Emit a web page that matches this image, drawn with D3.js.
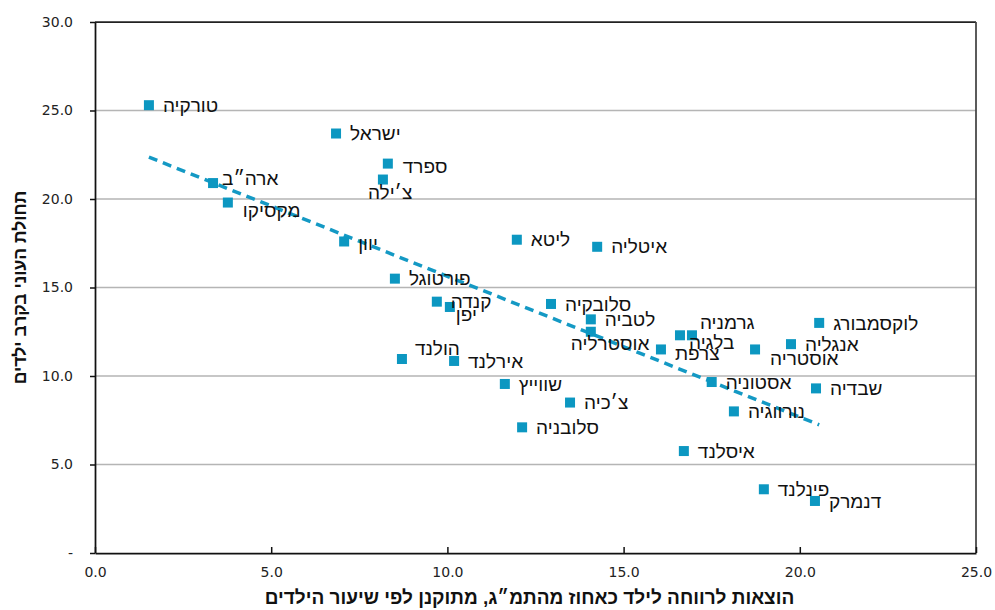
<!DOCTYPE html>
<html><head><meta charset="utf-8">
<script src="https://cdn.jsdelivr.net/npm/d3@7"></script>
<style>body{margin:0;background:#fff}</style>
</head><body>
<svg id="chart" width="995" height="610"></svg>
<script>
// ---- data ----
const countries = ["טורקיה","ישראל","ספרד","צ׳ילה","ארה״ב","מקסיקו","יוון","פורטוגל","קנדה","יפן","הולנד","אירלנד","ליטא","איטליה","סלובקיה","לטביה","אוסטרליה","שווייץ","צ׳כיה","סלובניה","בלגיה","גרמניה","צרפת","לוקסמבורג","אנגליה","אוסטריה","אסטוניה","שבדיה","נורווגיה","איסלנד","פינלנד","דנמרק"];
const spending = [1.53,6.84,8.31,8.17,3.35,3.77,7.07,8.51,9.70,10.07,8.71,10.19,11.97,14.25,12.94,14.07,14.07,11.63,13.48,12.12,16.60,16.94,16.06,20.55,19.75,18.73,17.50,20.46,18.13,16.71,18.98,20.43];
const poverty  = [25.3,23.7,22.0,21.1,20.9,19.8,17.6,15.5,14.2,13.9,10.96,10.85,17.7,17.3,14.07,13.2,12.5,9.55,8.5,7.1,12.3,12.3,11.5,13.0,11.8,11.5,9.66,9.3,8.0,5.76,3.6,2.94];
const xTicks = [0,5,10,15,20,25];
const xTickLabels = ["0.0","5.0","10.0","15.0","20.0","25.0"];
const yTicks = [0,5,10,15,20,25,30];
const yTickLabels = ["-","5.0","10.0","15.0","20.0","25.0","30.0"];
const xTitle = "הוצאות לרווחה לילד כאחוז מהתמ״ג, מתוקנן לפי שיעור הילדים";
const yTitle = "תחולת העוני בקרב ילדים";

// ---- label placement (layout only) ----
const labelOffsets = {
  "צ׳ילה":[-15,13], "ארה״ב":[9,-5], "ספרד":[15,3], "מקסיקו":[15,8], "יוון":[14,2],
  "יפן":[6,7], "הולנד":[13,-11], "אוסטרליה":[-20,12], "גרמניה":[8,-13],
  "בלגיה":[9,7], "צרפת":[14,4], "אוסטריה":[15,9]
};

const W = 995, H = 610;
const m = {left:95, top:22, right:19, bottom:57};
const iw = W - m.left - m.right, ih = H - m.top - m.bottom;
const COLOR = "#0c97c1";

const svg = d3.select("#chart");
const g = svg.append("g").attr("transform",`translate(${m.left},${m.top})`);
const x = d3.scaleLinear().domain([0,25]).range([0,iw]);
const y = d3.scaleLinear().domain([0,30]).range([ih,0]);

// gridlines
g.append("g").selectAll("line").data(yTicks.filter(d=>d>0 && d<30)).join("line")
  .attr("x1",0).attr("x2",iw).attr("y1",d=>y(d)).attr("y2",d=>y(d))
  .attr("stroke","#b5b5b5").attr("stroke-width",1.5);
// frame top/right
g.append("line").attr("x1",0).attr("x2",iw).attr("y1",y(30)).attr("y2",y(30)).attr("stroke","#222").attr("stroke-width",1.75);
g.append("line").attr("x1",iw).attr("x2",iw).attr("y1",0).attr("y2",ih).attr("stroke","#444").attr("stroke-width",1.75);

// axes
const tickFont = "'DejaVu Sans', sans-serif";
const xAxis = g.append("g").attr("transform",`translate(0,${ih})`)
  .call(d3.axisBottom(x).tickValues(xTicks).tickFormat((d,i)=>xTickLabels[i]).tickSizeInner(-6).tickSizeOuter(0).tickPadding(14));
const yAxis = g.append("g")
  .call(d3.axisLeft(y).tickValues(yTicks).tickFormat((d,i)=>yTickLabels[i]).tickSizeInner(5).tickSizeOuter(0).tickPadding(17));
[xAxis,yAxis].forEach(a=>{
  a.select(".domain").attr("stroke","#111").attr("stroke-width",1.75);
  a.selectAll(".tick line").attr("stroke","#111").attr("stroke-width",1.5);
  a.selectAll(".tick text").attr("font-family",tickFont).attr("font-size",14).attr("fill","#222");
});

// trendline (least squares)
const n = spending.length;
const mx = d3.mean(spending), my = d3.mean(poverty);
let sxy=0, sxx=0;
for(let i=0;i<n;i++){ sxy += (spending[i]-mx)*(poverty[i]-my); sxx += (spending[i]-mx)**2; }
const slope = sxy/sxx, icpt = my - slope*mx;
const [x0,x1] = d3.extent(spending);
g.append("line")
  .attr("x1",x(x0)).attr("y1",y(icpt+slope*x0))
  .attr("x2",x(x1)).attr("y2",y(icpt+slope*x1))
  .attr("stroke","#1499c4").attr("stroke-width",3.5).attr("stroke-dasharray","9,6");

// points
const pts = countries.map((c,i)=>({c, xv:spending[i], yv:poverty[i]}));
g.append("g").selectAll("rect").data(pts).join("rect")
  .attr("x",d=>x(d.xv)-5).attr("y",d=>y(d.yv)-5).attr("width",10).attr("height",10)
  .attr("fill",COLOR);

// labels
g.append("g").selectAll("text").data(pts).join("text")
  .attr("x",d=>x(d.xv)+(labelOffsets[d.c]?labelOffsets[d.c][0]:14))
  .attr("y",d=>y(d.yv)+(labelOffsets[d.c]?labelOffsets[d.c][1]:0))
  .attr("dy","0.35em")
  .attr("font-family","'Liberation Sans', Arial, sans-serif").attr("font-size",19).attr("fill","#111")
  .text(d=>d.c);

// axis titles
svg.append("text").attr("x",m.left+iw/2-6).attr("y",604).attr("text-anchor","middle")
  .attr("font-family","'Liberation Sans', Arial, sans-serif").attr("font-weight","bold").attr("font-size",19).attr("fill","#111")
  .text(xTitle);
svg.append("text").attr("transform",`translate(20,${m.top+ih/2}) rotate(-90)`).attr("text-anchor","middle").attr("dy","0.35em")
  .attr("font-family","'Liberation Sans', Arial, sans-serif").attr("font-weight","bold").attr("font-size",17.5).attr("fill","#111")
  .text(yTitle);
</script>
</body></html>
